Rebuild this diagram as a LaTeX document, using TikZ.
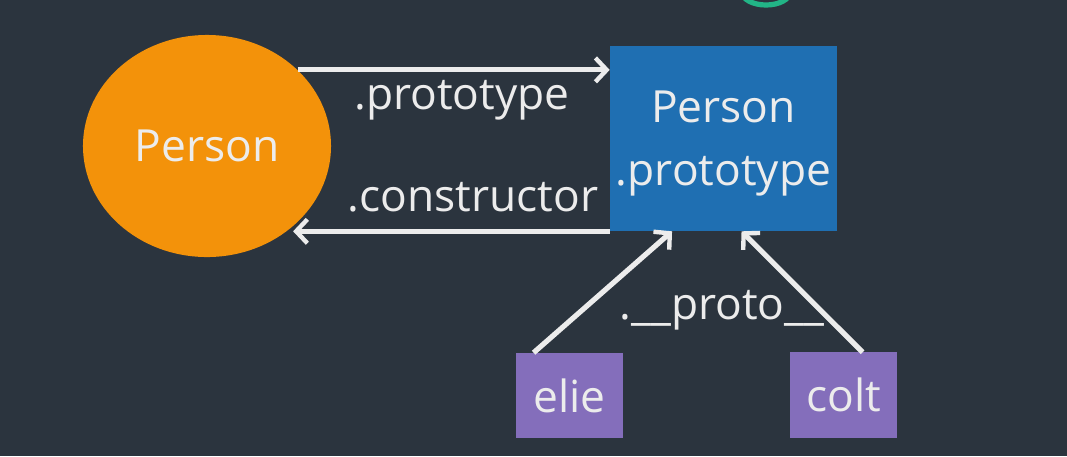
\documentclass[tikz,border=0pt]{standalone}
\usepackage{fontspec}
\setmainfont{Open Sans}
\usetikzlibrary{arrows.meta,shapes.geometric}

\definecolor{bg}{RGB}{43,52,62}
\definecolor{orangefn}{RGB}{243,146,10}
\definecolor{protoblue}{RGB}{31,111,178}
\definecolor{objpurple}{RGB}{132,110,187}
\definecolor{titlegreen}{RGB}{34,180,134}
\definecolor{txt}{RGB}{236,236,236}

\tikzset{
	lbl/.style={text=txt, font=\fontsize{31.5}{36}\selectfont, inner sep=0pt},
	link/.style={line width=0.13cm, txt, -{Straight Barb[length=8pt,width=17pt,line width=0.11cm]}},
	objbox/.style={lbl, fill=objpurple, minimum width=2.675cm, minimum height=2.125cm}
}

\begin{document}
\begin{tikzpicture}[x=0.025cm,y=-0.025cm]

\fill[bg] (0,0) rectangle (1067,456);
\useasboundingbox (0,0) rectangle (1067,456);

% Cut-off title glyph
\begin{scope}
	\clip (0,0) rectangle (1067,456);
	\draw[titlegreen, line width=0.13cm] (766,-8) ellipse [x radius=24, y radius=13];
\end{scope}

% Constructor and its prototype object
\node[lbl, ellipse, fill=orangefn, minimum width=6.2cm, minimum height=5.55cm] (person) at (207,146) {Person};
\node[lbl, fill=protoblue, minimum width=5.675cm, minimum height=4.625cm, align=center, text depth=0pt] (proto) at (723.5,138.5)
	{Person\\[9pt].prototype};

% Instances
\node[objbox] (elie) at (569.5,395.5) {elie};
\node[objbox] (colt) at (843.5,395) {colt};

% Links
\draw[link] (person.40) -- (person.40 -| proto.west);
\draw[link] (proto.south west) -- (proto.south west -| person.-43);
\draw[link] (elie.130) -- (proto.-119);
\draw[link] (colt.66) -- (proto.-79);

% Link labels
\node[lbl] (protolbl) at (462,100) {.prototype};
\node[lbl] (ctorlbl) at (473,197) {.constructor};
\node[lbl] (dunderlbl) at (722,310) {.\_\_proto\_\_};
\end{tikzpicture}
\end{document}
